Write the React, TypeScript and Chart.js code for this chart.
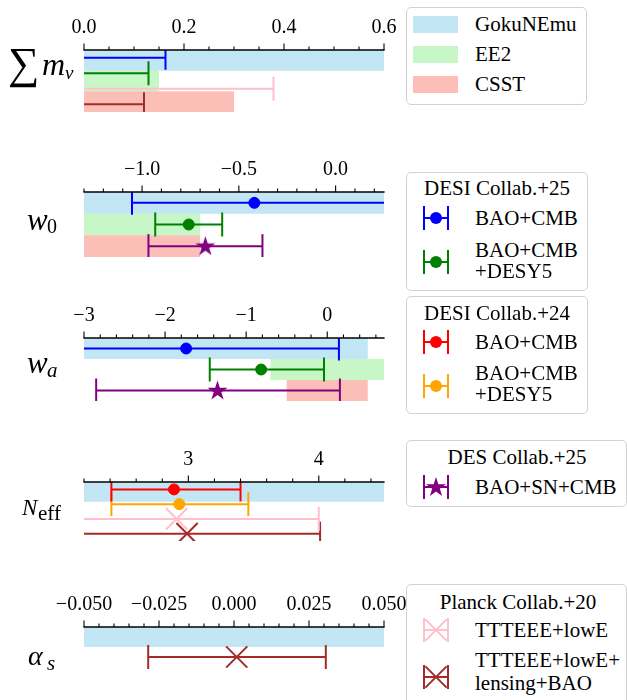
import React, { useEffect, useRef } from 'react';
import { Chart, registerables } from 'chart.js';
Chart.register(...registerables);

const SERIF = "'Liberation Serif', 'DejaVu Serif', serif";

// ---------- axis settings per panel (Σmν, w0, wa, Neff, αs) ----------
const axisMin = [0, -1.3, -3, 2.2, -0.05];
const axisMax = [0.6, 0.25, 0.7, 4.5, 0.05];
const majorStep = [0.2, 0.5, 1, 1, 0.025];
const minorStep = [0.05, 0.1, 0.2, 0.2, 0.005];
const tickDecimals = [1, 1, 0, 0, 3];

// ---------- emulator parameter ranges: GokuNEmu, EE2, CSST ----------
const emuNames = ['GokuNEmu', 'EE2', 'CSST'];
const emuColors = ['rgba(135,206,235,0.5)', 'rgba(144,238,144,0.5)', 'rgba(250,128,114,0.5)'];
const mnuRanges = [[0, 0.6], [0, 0.15], [0, 0.3]];
const w0Ranges = [[-1.3, 0.25], [-1.3, -0.7], [-1.3, -0.7]];
const waRanges = [[-3, 0.5], [-0.7, 0.7], [-0.5, 0.5]];
const neffRanges = [[2.2, 4.5]];
const asRanges = [[-0.05, 0.05]];

// ---------- observational constraints ----------
const seriesKeys = ['desi25a', 'desi25b', 'desi24a', 'desi24b', 'des25', 'planckA', 'planckB'];
const seriesColors = ['blue', 'green', 'red', 'orange', 'purple', 'pink', 'brown'];
const seriesMarkers = ['circle', 'circle', 'circle', 'circle', 'star', 'x', 'x'];
const seriesLabels = [['BAO+CMB'], ['BAO+CMB', '+DESY5'], ['BAO+CMB'], ['BAO+CMB', '+DESY5'], ['BAO+SN+CMB'], ['TTTEEE+lowE'], ['TTTEEE+lowE+', 'lensing+BAO']];
const legendTitles = ['DESI Collab.+25', 'DESI Collab.+24', 'DES Collab.+25', 'Planck Collab.+20'];

// [series, low, central (null = upper limit only), high]
type EB = [string, number, number | null, number];
const mnuBars: EB[] = [
  ['desi25a', -1, null, 0.163],
  ['desi25b', -1, null, 0.129],
  ['planckA', -1, null, 0.379],
  ['planckB', -1, null, 0.12],
];
const w0Bars: EB[] = [
  ['desi25a', -1.052, -0.42, 0.6],
  ['desi25b', -0.932, -0.759, -0.586],
  ['des25', -0.967, -0.673, -0.378],
];
const waBars: EB[] = [
  ['desi25a', -4, -1.74, 0.144],
  ['desi25b', -1.449, -0.815, -0.04],
  ['des25', -2.85, -1.354, 0.156],
];
const neffBars: EB[] = [
  ['desi24a', 2.41, 2.89, 3.4],
  ['desi24b', 2.41, 2.93, 3.46],
  ['planckA', 1, 2.91, 4.0],
  ['planckB', 1, 2.99, 4.01],
];
const asBars: EB[] = [['planckB', -0.0286, 0.0009, 0.0306]];

function rowY(i: number, n: number) {
  if (n === 4) return (i + 0.5) * 0.75;
  if (n === 1) return 1.5;
  return i + 0.5;
}

function starPoints(cx: number, cy: number, R: number) {
  const pts: [number, number][] = [];
  for (let i = 0; i < 10; i++) {
    const r = i % 2 ? R * 0.382 : R;
    const a = -Math.PI / 2 + (i * Math.PI) / 5;
    pts.push([cx + r * Math.cos(a), cy + r * Math.sin(a)]);
  }
  return pts;
}

function starCanvas(color: string, R: number) {
  const c = document.createElement('canvas');
  const s = Math.ceil(R * 2 + 2);
  c.width = s;
  c.height = s;
  const ctx = c.getContext('2d')!;
  ctx.beginPath();
  starPoints(s / 2, s / 2 + R * 0.05, R).forEach(([x, y], i) => (i ? ctx.lineTo(x, y) : ctx.moveTo(x, y)));
  ctx.closePath();
  ctx.fillStyle = color;
  ctx.fill();
  return c;
}

function Panel({ idx, top, plotH, ranges, bars }: { idx: number; top: number; plotH: number; ranges: number[][]; bars: EB[] }) {
  const ref = useRef<HTMLCanvasElement>(null);
  useEffect(() => {
    const min = axisMin[idx];
    const max = axisMax[idx];
    const minor = minorStep[idx];
    const major = majorStep[idx];
    const tickVals: number[] = [];
    for (let k = Math.ceil(min / minor - 1e-6); k <= Math.floor(max / minor + 1e-6); k++) tickVals.push(+(k * minor).toFixed(6));
    const isMajor = (v: number) => Math.abs(v / major - Math.round(v / major)) < 1e-6;
    const fmt = (v: number) => (v < -1e-9 ? '\u2212' : '') + Math.abs(v).toFixed(tickDecimals[idx]);

    const datasets: any[] = [];
    ranges.forEach(([lo, hi], k) =>
      datasets.push({
        data: [{ x: lo, y: k }, { x: hi, y: k }, { x: hi, y: k + 1 }, { x: lo, y: k + 1 }],
        showLine: true,
        fill: 'shape',
        backgroundColor: emuColors[k],
        borderColor: 'transparent',
        borderWidth: 0,
        pointRadius: 0,
        order: 20 - k,
        clip: 0,
      })
    );
    bars.forEach(([key, lo, mid, hi], i) => {
      const s = seriesKeys.indexOf(key);
      const color = seriesColors[s];
      const y = rowY(i, bars.length);
      datasets.push({
        data: [{ x: lo, y }, { x: hi, y }],
        showLine: true,
        borderColor: color,
        borderWidth: 2,
        pointStyle: 'line',
        pointRotation: 90,
        pointRadius: 12,
        pointBorderColor: color,
        pointBackgroundColor: color,
        pointBorderWidth: 2,
        order: 5,
        clip: 0,
      });
      if (mid !== null) {
        const m = seriesMarkers[s];
        const base: any = { data: [{ x: mid, y }], order: 1, clip: 0 };
        if (m === 'circle') Object.assign(base, { pointStyle: 'circle', pointRadius: 5.5, pointBackgroundColor: color, pointBorderColor: color, pointBorderWidth: 1 });
        else if (m === 'x') Object.assign(base, { pointStyle: 'crossRot', pointRadius: 15, pointBorderColor: color, pointBorderWidth: 2 });
        else Object.assign(base, { pointStyle: starCanvas(color, 10.5), pointRadius: 9 });
        datasets.push(base);
      }
    });

    const axisPlugin = {
      id: 'topAxis' + idx,
      afterDraw(chart: any) {
        const { ctx, chartArea } = chart;
        const xs = chart.scales.x;
        const y0 = chartArea.top;
        ctx.save();
        ctx.strokeStyle = '#000';
        ctx.lineWidth = 1.1;
        tickVals.forEach((v) => {
          const px = xs.getPixelForValue(v);
          const len = isMajor(v) ? 6.5 : 3.5;
          ctx.beginPath();
          ctx.moveTo(px, y0);
          ctx.lineTo(px, y0 - len);
          ctx.stroke();
        });
        ctx.lineWidth = 1.3;
        ctx.beginPath();
        ctx.moveTo(chartArea.left - 0.6, y0);
        ctx.lineTo(chartArea.right + 0.6, y0);
        ctx.stroke();
        ctx.restore();
      },
    };

    const chart = new Chart(ref.current!, {
      type: 'scatter',
      data: { datasets },
      options: {
        animation: false,
        responsive: false,
        events: [],
        layout: { padding: { left: 84, right: 243, top: 0, bottom: 0 } },
        plugins: { legend: { display: false }, tooltip: { enabled: false } },
        scales: {
          x: {
            type: 'linear',
            position: 'top',
            min,
            max,
            afterBuildTicks: (s: any) => {
              s.ticks = tickVals.map((v) => ({ value: v }));
            },
            afterFit: (s: any) => {
              s.height = 50;
            },
            grid: { display: false, drawTicks: false },
            border: { display: false },
            ticks: {
              autoSkip: false,
              maxRotation: 0,
              padding: 10,
              color: '#000',
              font: { family: SERIF, size: 20 },
              callback: (v: any) => (isMajor(+v) ? fmt(+v) : ''),
            },
          },
          y: { type: 'linear', min: 0, max: 3, reverse: true, display: false },
        },
      } as any,
      plugins: [axisPlugin],
    });
    return () => chart.destroy();
  }, []);
  return <canvas ref={ref} width={627} height={50 + plotH} style={{ position: 'absolute', left: 0, top: top - 50, display: 'block' }} />;
}

const BORDER = '1.5px solid #d2d2d2';
function Box({ x, y, w, h }: { x: number; y: number; w: number; h: number }) {
  return <div style={{ position: 'absolute', left: x, top: y, width: w, height: h, border: BORDER, borderRadius: 5, background: '#fff', boxSizing: 'border-box' }} />;
}
function Txt({ x, y, children, center }: { x: number; y: number; children: any; center?: boolean }) {
  return (
    <div style={{ position: 'absolute', left: x, top: y - 12, height: 24, lineHeight: '24px', fontSize: 21, fontFamily: SERIF, whiteSpace: 'nowrap', color: '#000', transform: center ? 'translateX(-50%)' : undefined }}>
      {children}
    </div>
  );
}
function Icon({ y, s }: { y: number; s: number }) {
  const color = seriesColors[s];
  const m = seriesMarkers[s];
  return (
    <svg width={44} height={30} style={{ position: 'absolute', left: 414, top: y - 15 }}>
      <line x1={10} y1={15} x2={34} y2={15} stroke={color} strokeWidth={2} />
      <line x1={10} y1={3} x2={10} y2={27} stroke={color} strokeWidth={2} />
      <line x1={34} y1={3} x2={34} y2={27} stroke={color} strokeWidth={2} />
      {m === 'circle' && <circle cx={22} cy={15} r={6} fill={color} />}
      {m === 'x' && <path d="M11.4 4.4 L32.6 25.6 M11.4 25.6 L32.6 4.4" stroke={color} strokeWidth={2} fill="none" />}
      {m === 'star' && <polygon points={starPoints(22, 15.5, 10.5).map((p) => p.join(',')).join(' ')} fill={color} />}
    </svg>
  );
}
function Entry({ key2, iconY, textY }: { key2: string; iconY: number; textY: number[] }) {
  const s = seriesKeys.indexOf(key2);
  return (
    <>
      <Icon y={iconY} s={s} />
      {seriesLabels[s].map((t, i) => (
        <Txt key={i} x={475} y={textY[i]}>
          {t}
        </Txt>
      ))}
    </>
  );
}

function MathLabels() {
  const it = { fontFamily: SERIF, fontStyle: 'italic' as const, fill: '#000' };
  const up = { fontFamily: SERIF, fill: '#000' };
  return (
    <svg width={84} height={700} style={{ position: 'absolute', left: 0, top: 0 }}>
      <text x={8} y={78} fontSize={44} {...up}>∑</text>
      <text x={42} y={75} fontSize={32} {...it}>m</text>
      <text x={65} y={79} fontSize={19} {...it}>ν</text>

      <text x={27} y={230} fontSize={31} {...it}>w</text>
      <text x={47} y={233} fontSize={20} {...up}>0</text>

      <text x={27} y={373} fontSize={31} {...it}>w</text>
      <text x={47} y={377} fontSize={21} {...it}>a</text>

      <text x={22} y={515} fontSize={23} {...it}>N</text>
      <text x={38} y={520} fontSize={21} {...up}>eff</text>

      <text x={28} y={665} fontSize={28} {...it}>α</text>
      <text x={47} y={670} fontSize={21} {...it}>s</text>
    </svg>
  );
}

export default function App() {
  return (
    <div style={{ position: 'fixed', left: 0, top: 0, width: 627, height: 700, overflow: 'hidden', background: '#fff' }}>
      <Panel idx={0} top={50} plotH={76} ranges={mnuRanges} bars={mnuBars} />
      <Panel idx={1} top={192} plotH={79} ranges={w0Ranges} bars={w0Bars} />
      <Panel idx={2} top={338} plotH={77} ranges={waRanges} bars={waBars} />
      <Panel idx={3} top={482} plotH={76} ranges={neffRanges} bars={neffBars} />
      <Panel idx={4} top={627} plotH={77} ranges={asRanges} bars={asBars} />
      <MathLabels />

      <Box x={406} y={7} w={181} h={98} />
      {emuNames.map((n, k) => (
        <React.Fragment key={n}>
          <div style={{ position: 'absolute', left: 413, top: 24 + 30 * k - 8.5, width: 45, height: 17, background: emuColors[k] }} />
          <Txt x={475} y={24 + 30 * k}>{n}</Txt>
        </React.Fragment>
      ))}

      <Box x={406} y={172} w={182} h={119} />
      <Txt x={497} y={188} center>{legendTitles[0]}</Txt>
      <Entry key2="desi25a" iconY={218} textY={[218]} />
      <Entry key2="desi25b" iconY={262} textY={[250, 271]} />

      <Box x={406} y={296} w={182} h={118} />
      <Txt x={497} y={313} center>{legendTitles[1]}</Txt>
      <Entry key2="desi24a" iconY={342} textY={[342]} />
      <Entry key2="desi24b" iconY={386} textY={[373, 394]} />

      <Box x={406} y={440} w={221} h={67} />
      <Txt x={517} y={457} center>{legendTitles[2]}</Txt>
      <Entry key2="des25" iconY={487} textY={[487]} />

      <Box x={406} y={584} w={221} h={140} />
      <Txt x={518} y={602} center>{legendTitles[3]}</Txt>
      <Entry key2="planckA" iconY={630} textY={[630]} />
      <Entry key2="planckB" iconY={677} textY={[660, 683]} />
    </div>
  );
}
